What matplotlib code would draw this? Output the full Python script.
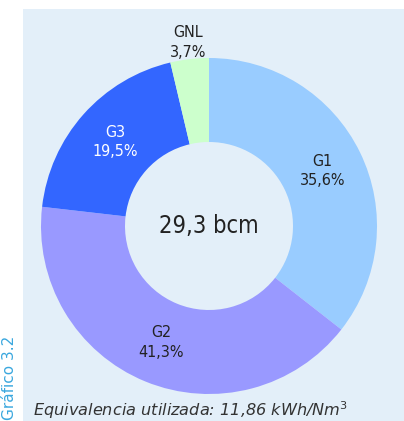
import numpy as np
import matplotlib
matplotlib.use("Agg")
import matplotlib.pyplot as plt
from matplotlib.patches import Rectangle

# Datos
categorias = ["G1", "G2", "G3", "GNL"]
porcentajes = [35.6, 41.3, 19.5, 3.7]
colores = ["#99CCFF", "#9999FF", "#3366FF", "#CCFFCC"]
etiquetas = ["35,6%", "41,3%", "19,5%", "3,7%"]
total = "29,3 bcm"

fig = plt.figure(figsize=(4.04, 4.21), dpi=100)
ax = fig.add_axes([0, 0, 1, 1])

# Panel de fondo
ax.add_patch(Rectangle((23, 0), 404 - 23, 421 - 9, facecolor="#E3EFF9", edgecolor="none", zorder=0))

cx, cy, R = 209, 421 - 226, 168
wedges, _ = ax.pie(porcentajes, colors=colores, startangle=90, counterclock=False,
                   radius=R, center=(cx, cy),
                   wedgeprops=dict(width=R / 2, edgecolor="none"))

ax.set_xlim(0, 404)
ax.set_ylim(0, 421)
ax.set_aspect("equal")
ax.axis("off")

# Etiquetas
for i, w in enumerate(wedges):
    ang = np.deg2rad((w.theta1 + w.theta2) / 2)
    r = 0.75 * R if categorias[i] != "GNL" else 1.1 * R
    x = cx + r * np.cos(ang)
    y = cy + r * np.sin(ang)
    color = "white" if categorias[i] == "G3" else "#222222"
    ax.text(x, y, categorias[i] + "\n" + etiquetas[i], ha="center", va="center",
            fontsize=11.5, color=color, fontstretch="condensed", linespacing=1.35)

ax.text(cx, cy, total, ha="center", va="center", fontsize=17, color="#222222",
        fontstretch="condensed")

ax.text(33, 421 - 410, "Equivalencia utilizada: 11,86 kWh/Nm$^3$", ha="left", va="center",
        fontsize=11.6, style="italic", color="#333333")
ax.text(10, 421 - 378, "Gráfico 3.2", rotation=90, ha="center", va="center",
        fontsize=11, color="#3AA7DE")

fig.savefig("out.png", dpi=100)
